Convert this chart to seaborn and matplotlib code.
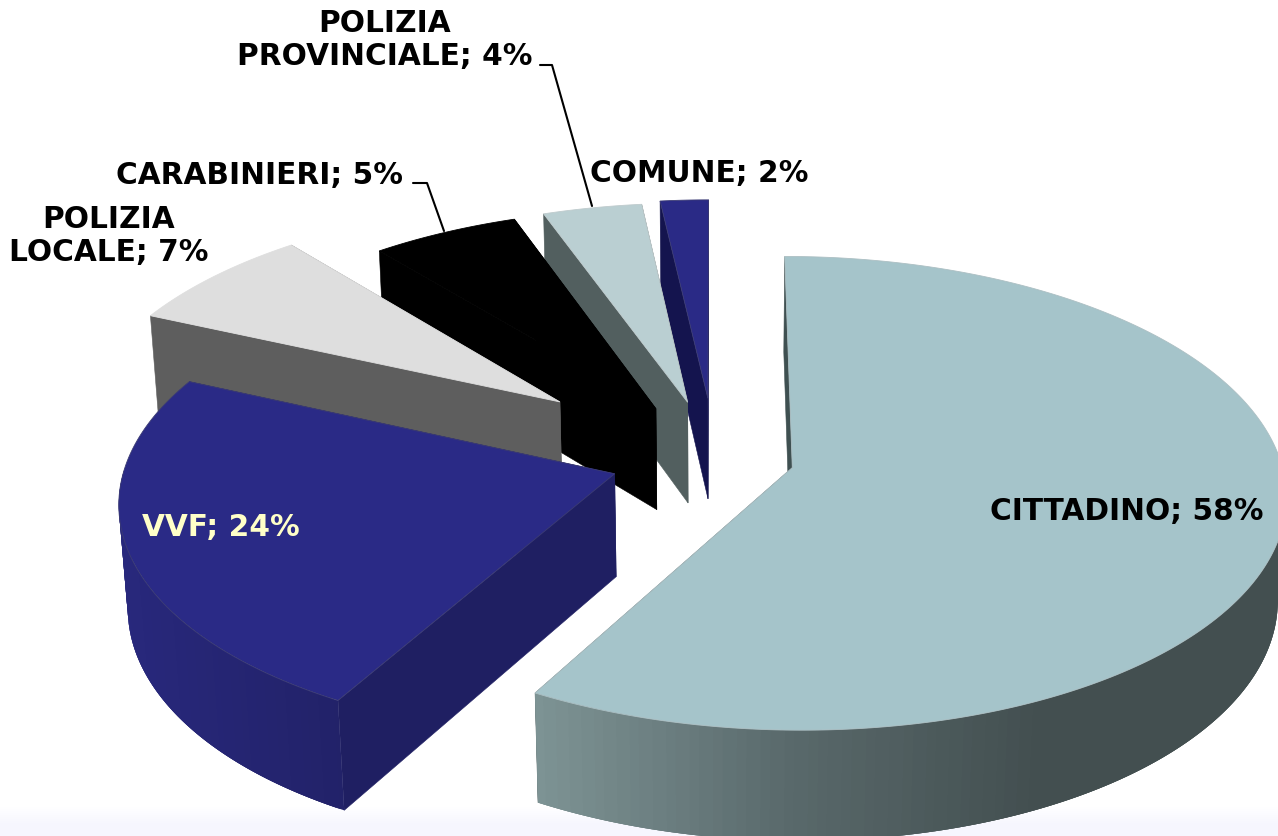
import numpy as np
import matplotlib
matplotlib.use('Agg')
import matplotlib.pyplot as plt
from matplotlib.patches import Polygon
import seaborn as sns

sns.set_theme(style='white')
plt.rcParams['font.family'] = ['DejaVu Sans']

# dati
CATEGORIES = ['CITTADINO', 'VVF', 'POLIZIA\nLOCALE', 'CARABINIERI', 'POLIZIA\nPROVINCIALE', 'COMUNE']
PERCENT = [58, 24, 7, 5, 4, 2]
# quote non arrotondate stimate dalla forma delle fette
SHARES = [58.15, 23.55, 7.3, 5.5, 3.7, 1.8]

# stile per fetta
TOP_COLORS = ['#a5c4ca', '#2a2a86', '#dedede', '#000000', '#bacfd2', '#2a2a86']
SIDE_COLORS = [['#7d9394', '#59696b', '#434f50', '#434f50'], ['#28287c', '#222269'], ['#5e5e5e'] * 2,
               ['#000000'] * 2, ['#525f5f'] * 2, ['#14144e'] * 2]
CUT_COLORS = ['#3f5051', '#1f1f62', '#5e5e5e', '#000000', '#525f5f', '#14144e']
EXPLODE = [0.163, 0.215, 0.41, 0.25, 0.253, 0.265]

# camera
CX, CY = 715, 459
SX, SY = 488, 232
PERSP_Y, PERSP_Z = 0.108, 0.015
DEPTH = 104


def project(x, y, down=0.0):
    w = 1 + PERSP_Y * y + PERSP_Z * down
    return np.column_stack([CX + SX * x / w, CY + (-SY * y + DEPTH * down) / w])


def draw_slice(ax, start, end, explode, top, side, cut):
    mid = np.radians((start + end) / 2)
    x0, y0 = explode * np.sin(mid), explode * np.cos(mid)
    th = np.radians(np.linspace(start, end, max(int(end - start) * 2, 8)))
    arc_x, arc_y = x0 + np.sin(th), y0 + np.cos(th)

    # facce di taglio, prima quella piu' lontana
    faces = []
    for a in (th[0], th[-1]):
        ex, ey = x0 + np.sin(a), y0 + np.cos(a)
        faces.append((y0 + ey, [[x0, y0, 0], [ex, ey, 0], [ex, ey, 1], [x0, y0, 1]]))
    for _, f in sorted(faces, key=lambda t: -t[0]):
        pts = np.vstack([project(p[0], p[1], p[2]) for p in f])
        ax.add_patch(Polygon(pts, fc=cut, ec=cut, lw=0.4))

    # bordo esterno a strisce sovrapposte per non lasciare giunture
    up = project(arc_x, arc_y, 0)
    low = project(arc_x, arc_y, 1)
    pal = sns.blend_palette(side, 64)
    xmin, xmax = up[:, 0].min(), up[:, 0].max()
    n = len(th)
    for i in range(n - 1):
        if np.cos(th[i]) > 0 and np.cos(th[i + 1]) > 0:
            continue
        j = min(i + 3, n - 1)
        col = pal[int((up[i, 0] - xmin) / max(xmax - xmin, 1) * 63)]
        ax.add_patch(Polygon(np.vstack([up[i:j + 1], low[i:j + 1][::-1]]), fc=col, ec='none', lw=0))

    # faccia superiore
    pts = np.vstack([project(x0, y0, 0), up])
    ax.add_patch(Polygon(pts, fc=top, ec=sns.desaturate(top, 0.6) if top != '#000000' else top, lw=0.6))


def main():
    fig = plt.figure(figsize=(12.78, 8.37), dpi=100)
    ax = fig.add_axes([0, 0, 1, 1])
    ax.set_xlim(0, 1278)
    ax.set_ylim(837, 0)
    ax.axis('off')

    # leggero sfondo azzurrino in basso
    band = sns.blend_palette(['#ffffff', '#f6f6fe'], 20)
    for i, c in enumerate(band):
        ax.axhspan(806 + i * 1.0, 837, color=c, lw=0, zorder=0)

    edges = np.cumsum([0] + SHARES) * 3.6
    # dal fondo verso il davanti
    for i in [5, 4, 3, 2, 1, 0]:
        draw_slice(ax, edges[i], edges[i + 1], EXPLODE[i], TOP_COLORS[i], SIDE_COLORS[i], CUT_COLORS[i])

    # linee guida
    ax.plot([540, 552, 592], [66, 66, 207], color='black', lw=1.5, zorder=5)
    ax.plot([413, 427, 444], [184, 184, 232], color='black', lw=1.5, zorder=5)

    # etichette
    fs = 21.3
    lab = [f'{c}; {p}%' for c, p in zip(CATEGORIES, PERCENT)]
    ax.text(1127, 511, lab[0], fontsize=fs, fontweight='bold', color='black', ha='center', va='center', zorder=6)
    ax.text(221, 528, lab[1], fontsize=fs, fontweight='bold', color='#ffffc8', ha='center', va='center', zorder=6)
    ax.text(109, 236, lab[2], fontsize=fs, fontweight='bold', color='black', ha='center', va='center', zorder=6, linespacing=1.15)
    ax.text(259, 175, lab[3], fontsize=fs, fontweight='bold', color='black', ha='center', va='center', zorder=6)
    ax.text(385, 40, lab[4], fontsize=fs, fontweight='bold', color='black', ha='center', va='center', zorder=6, linespacing=1.15)
    ax.text(699, 173, lab[5], fontsize=fs, fontweight='bold', color='black', ha='center', va='center', zorder=6)

    sns.despine(ax=ax, left=True, bottom=True)
    fig.savefig('out.png', dpi=100)
    plt.close(fig)


if __name__ == "__main__":
    main()
